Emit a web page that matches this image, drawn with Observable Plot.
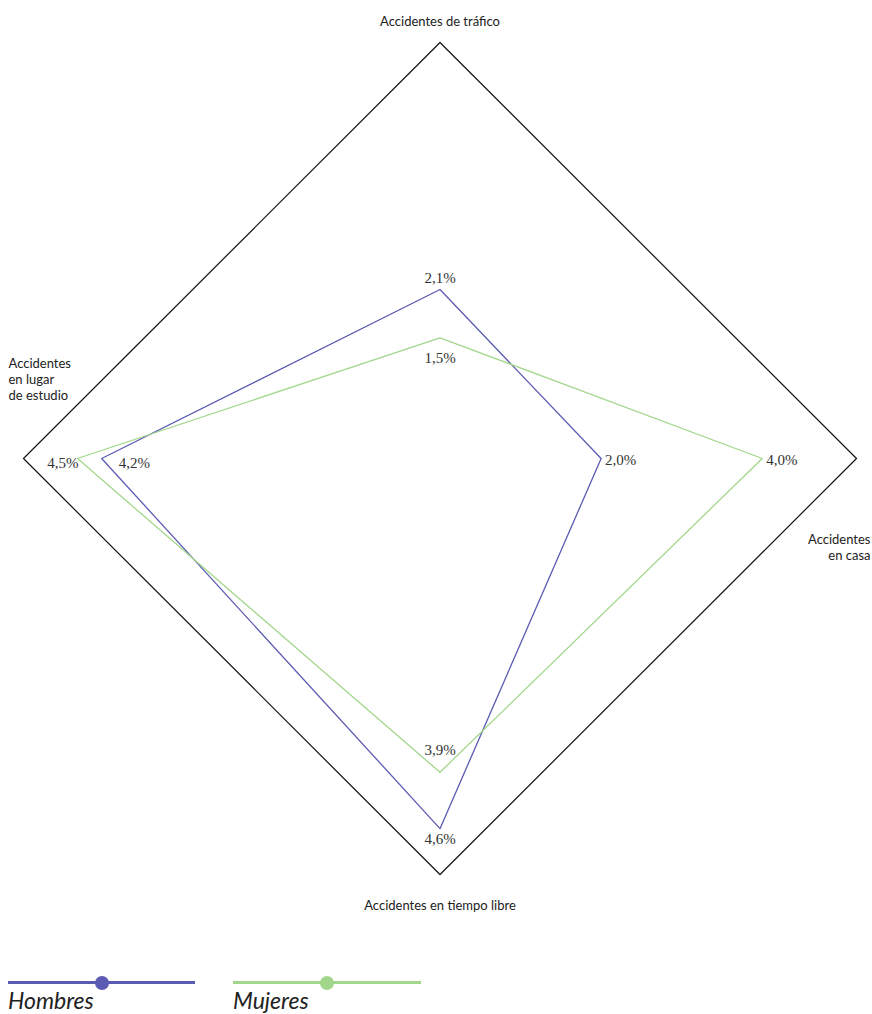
<!DOCTYPE html>
<html>
<head>
<meta charset="utf-8">
<script src="https://cdn.jsdelivr.net/npm/d3@7"></script>
<script src="https://cdn.jsdelivr.net/npm/@observablehq/plot@0.6"></script>
<style>
  html, body { margin: 0; padding: 0; background: #fff; }
  #wrap { position: relative; width: 872px; height: 1014px; overflow: hidden; }
  #chart svg { display: block; }
  .lg { position: absolute; }
  .lg .ln { position: absolute; left: 0; top: 0; height: 3px; }
  .lg .dot { position: absolute; width: 14px; height: 14px; border-radius: 50%; top: -5.5px; }
  .lg .lbl { position: absolute; left: 0; top: 6px; line-height: 26px; font-family: Lato, "Open Sans", sans-serif; font-style: italic; font-size: 23px; color: #222; white-space: nowrap; }
</style>
</head>
<body>
<div id="wrap">
  <div id="chart"></div>
  <div id="legend"></div>
</div>
<script>
// ---- data ----
const axes = ["Accidentes de tráfico", "Accidentes en casa", "Accidentes en tiempo libre", "Accidentes en lugar de estudio"];
const axisLabels = ["Accidentes de tráfico", "Accidentes\nen casa", "Accidentes en tiempo libre", "Accidentes\nen lugar\nde estudio"];
const series = ["Hombres", "Mujeres"];
const hombres = [2.1, 2.0, 4.6, 4.2];
const mujeres = [1.5, 4.0, 3.9, 4.5];
const scaleMax = 5.17;
const colors = ["#5b5bb3", "#a2d78b"];

// ---- geometry helpers (unit directions: up, right, down, left) ----
const dirs = [[0, 1], [1, 0], [0, -1], [-1, 0]];
const fmt = v => d3.format(".1f")(v).replace(".", ",") + "%";

const rows = [];
[hombres, mujeres].forEach((vals, si) => {
  vals.forEach((v, i) => {
    rows.push({series: series[si], axis: axes[i], i, value: v, x: dirs[i][0] * v, y: dirs[i][1] * v, label: fmt(v)});
  });
});
const outer = axes.map((a, i) => ({axis: a, i, x: dirs[i][0] * scaleMax, y: dirs[i][1] * scaleMax, label: axisLabels[i]}));

// label placement per axis: vertical axes -> larger value outward, smaller inward
function labelOffset(r) {
  const other = rows.find(o => o.i === r.i && o.series !== r.series);
  const outward = r.value >= other.value;
  if (r.i === 0) return outward ? {dx: 0, dy: -11, a: "middle"} : {dx: 0, dy: 20, a: "middle"};
  if (r.i === 2) return outward ? {dx: 0, dy: 11, a: "middle"} : {dx: 0, dy: -22, a: "middle"};
  if (r.i === 1) return {dx: 4, dy: 2, a: "start"};
  return outward ? {dx: 1, dy: 5, a: "end"} : {dx: 17, dy: 5, a: "start"};
}
const valueLabelMarks = rows.map(r => {
  const o = labelOffset(r);
  return Plot.text([r], {x: "x", y: "y", text: "label", dx: o.dx, dy: o.dy, textAnchor: o.a,
    fontFamily: "'Liberation Serif', 'DejaVu Serif', serif", fontSize: 15, fill: "#333"});
});

const axisTextStyle = {fontFamily: "Lato, 'Open Sans', sans-serif", fontSize: 13, fill: "#222", lineHeight: 1.23};
const axisLabelMarks = [
  Plot.text([outer[0]], {x: "x", y: "y", text: "label", dy: -22, textAnchor: "middle", ...axisTextStyle}),
  Plot.text([outer[1]], {x: "x", y: "y", text: "label", dx: 14, dy: 88, textAnchor: "end", ...axisTextStyle}),
  Plot.text([outer[2]], {x: "x", y: "y", text: "label", dy: 30, textAnchor: "middle", ...axisTextStyle}),
  Plot.text([outer[3]], {x: "x", y: "y", text: "label", dx: -15, dy: -80, textAnchor: "start", ...axisTextStyle})
];

const chart = Plot.plot({
  width: 872,
  height: 925,
  marginLeft: 23,
  marginRight: 16,
  marginTop: 42,
  marginBottom: 51,
  x: {domain: [-scaleMax, scaleMax], axis: null},
  y: {domain: [-scaleMax, scaleMax], axis: null},
  color: {domain: series, range: colors},
  marks: [
    Plot.line(outer, {x: "x", y: "y", curve: "linear-closed", stroke: "#111", strokeWidth: 1.2}),
    Plot.line(rows, {x: "x", y: "y", z: "series", stroke: "series", curve: "linear-closed", strokeWidth: 1.3}),
    ...valueLabelMarks,
    ...axisLabelMarks
  ]
});
document.getElementById("chart").appendChild(chart);

// ---- legend ----
const legend = document.getElementById("legend");
const legendPos = [{left: 8, width: 187}, {left: 233, width: 188}];
series.forEach((s, i) => {
  const p = legendPos[i];
  const item = document.createElement("div");
  item.className = "lg";
  item.style.left = p.left + "px";
  item.style.top = "981px";
  item.style.width = p.width + "px";
  item.innerHTML = `<div class="ln" style="width:${p.width}px;background:${colors[i]}"></div>` +
    `<div class="dot" style="left:${p.width / 2 - 7}px;background:${colors[i]}"></div>` +
    `<div class="lbl">${s}</div>`;
  legend.appendChild(item);
});
</script>
</body>
</html>
